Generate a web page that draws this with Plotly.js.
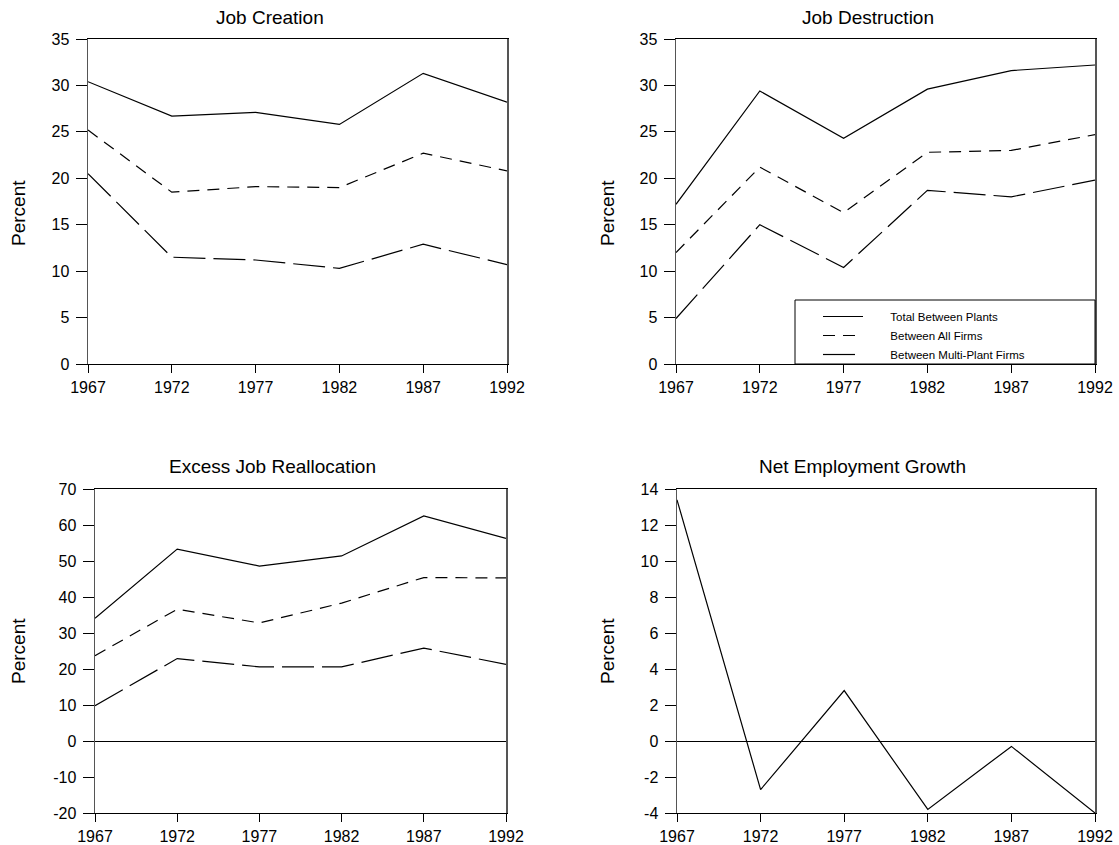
<!DOCTYPE html>
<html>
<head>
<meta charset="utf-8">
<script src="https://cdn.plot.ly/plotly-3.0.1.min.js"></script>
<style>html,body{margin:0;padding:0;background:#fff;}#chart{width:1119px;height:845px;}</style>
</head>
<body>
<div id="chart"></div>
<script>
const years = [1967, 1972, 1977, 1982, 1987, 1992];
const seriesNames = ["Total Between Plants", "Between All Firms", "Between Multi-Plant Firms"];

const creationTotal = [30.4, 26.7, 27.1, 25.8, 31.3, 28.2];
const creationAllFirms = [25.2, 18.5, 19.1, 19.0, 22.7, 20.8];
const creationMulti = [20.5, 11.5, 11.2, 10.3, 12.9, 10.7];

const destructionTotal = [17.2, 29.4, 24.3, 29.6, 31.6, 32.2];
const destructionAllFirms = [12.0, 21.2, 16.3, 22.8, 23.0, 24.7];
const destructionMulti = [4.9, 15.0, 10.4, 18.7, 18.0, 19.8];

const excessTotal = [34.1, 53.3, 48.6, 51.4, 62.5, 56.3];
const excessAllFirms = [23.7, 36.6, 32.8, 38.3, 45.4, 45.3];
const excessMulti = [9.8, 22.9, 20.6, 20.6, 25.8, 21.3];

const netGrowth = [13.4, -2.7, 2.8, -3.8, -0.3, -4.0];

const panelTitles = ["Job Creation", "Job Destruction", "Excess Job Reallocation", "Net Employment Growth"];
const yTitle = "Percent";
const yTicksTop = [0, 5, 10, 15, 20, 25, 30, 35];
const yTicksExcess = [-20, -10, 0, 10, 20, 30, 40, 50, 60, 70];
const yTicksNet = [-4, -2, 0, 2, 4, 6, 8, 10, 12, 14];

const dashes = ["solid", "12px,8px", "32px,8px"];
const FONT = "Liberation Sans, Arial, sans-serif";
const PAD = "\u00a0\u00a0\u00a0\u00a0\u00a0\u00a0\u00a0";

function tr(y, idx, ax, show) {
  return {
    x: years, y: y, type: "scatter", mode: "lines",
    name: PAD + seriesNames[idx],
    xaxis: "x" + ax, yaxis: "y" + ax,
    line: {color: "#000", width: 1.2, dash: dashes[idx]},
    showlegend: show, hoverinfo: "x+y"
  };
}

const data = [
  tr(creationTotal, 0, "", false), tr(creationAllFirms, 1, "", false), tr(creationMulti, 2, "", false),
  tr(destructionTotal, 0, "2", true), tr(destructionAllFirms, 1, "2", true), tr(destructionMulti, 2, "2", true),
  tr(excessTotal, 0, "3", false), tr(excessAllFirms, 1, "3", false), tr(excessMulti, 2, "3", false),
  tr(netGrowth, 0, "4", false)
];

const W = 1119, H = 845;
const px = v => v / W, py = v => 1 - v / H;
const label = v => (v < 0 ? "-" + Math.abs(v) : String(v));

function xax(x0, x1, anchor) {
  return {
    domain: [px(x0), px(x1)], anchor: anchor, range: [1967, 1992],
    tickmode: "array", tickvals: years, ticktext: years.map(String),
    ticks: "outside", ticklen: 8, tickcolor: "#000", tickwidth: 1,
    showline: true, linecolor: "#000", linewidth: 1, mirror: true,
    showgrid: false, zeroline: false, ticklabelstandoff: 1,
    tickfont: {family: FONT, size: 16, color: "#000"}
  };
}
function yax(y0, y1, anchor, range, vals, zl) {
  return {
    domain: [py(y1), py(y0)], anchor: anchor, range: range,
    tickmode: "array", tickvals: vals, ticktext: vals.map(label),
    ticks: "outside", ticklen: 11, tickcolor: "#000", tickwidth: 1,
    showline: true, linecolor: "#555", linewidth: 1.5, mirror: true,
    showgrid: false, zeroline: zl, zerolinecolor: "#000", zerolinewidth: 1,
    ticklabelstandoff: 3,
    tickfont: {family: FONT, size: 16, color: "#000"}
  };
}

const annFont = {family: FONT, size: 19, color: "#000"};
const annotations = [
  {text: panelTitles[0], x: px(270), y: py(17)},
  {text: panelTitles[1], x: px(868), y: py(17)},
  {text: panelTitles[2], x: px(272), y: py(467)},
  {text: panelTitles[3], x: px(862), y: py(467)},
  {text: yTitle, x: px(18), y: py(213), textangle: -90},
  {text: yTitle, x: px(607), y: py(213), textangle: -90},
  {text: yTitle, x: px(18), y: py(651), textangle: -90},
  {text: yTitle, x: px(607), y: py(651), textangle: -90}
].map(a => Object.assign({xref: "paper", yref: "paper", showarrow: false, xanchor: "center", yanchor: "middle", font: annFont}, a));

const layout = {
  width: W, height: H,
  margin: {l: 0, r: 0, t: 0, b: 0},
  paper_bgcolor: "#fff", plot_bgcolor: "#fff",
  font: {family: FONT, color: "#000"},
  xaxis: xax(88, 507, "y"), yaxis: yax(39, 364, "x", [0, 35], yTicksTop, false),
  xaxis2: xax(676, 1095, "y2"), yaxis2: yax(39, 364, "x2", [0, 35], yTicksTop, false),
  xaxis3: xax(95, 506, "y3"), yaxis3: yax(489, 813, "x3", [-20, 70], yTicksExcess, true),
  xaxis4: xax(677, 1095, "y4"), yaxis4: yax(489, 813, "x4", [-4, 14], yTicksNet, true),
  annotations: annotations,
  shapes: [{type: "rect", xref: "paper", yref: "paper", x0: px(795), x1: px(1095), y0: py(364), y1: py(300),
            line: {color: "#000", width: 1}, fillcolor: "rgba(0,0,0,0)", layer: "above"}],
  legend: {x: px(818), y: py(302), xanchor: "left", yanchor: "top", bgcolor: "rgba(0,0,0,0)", borderwidth: 0,
           font: {family: FONT, size: 11.5, color: "#000"}, tracegroupgap: 0, itemwidth: 40}
};

Plotly.newPlot("chart", data, layout, {displayModeBar: false, staticPlot: true});
</script>
</body>
</html>
